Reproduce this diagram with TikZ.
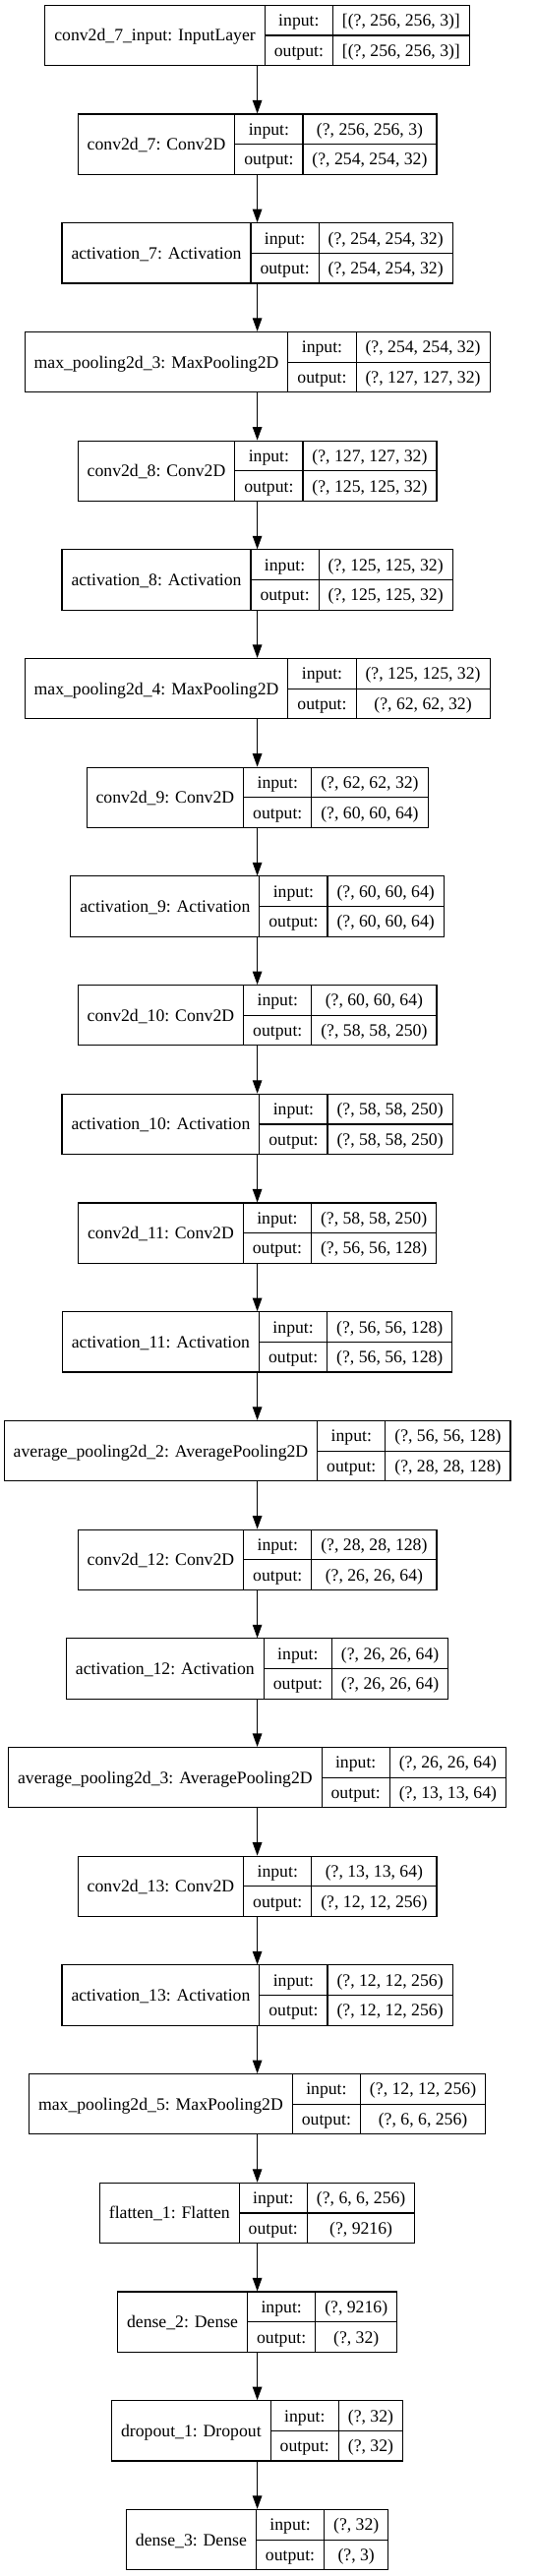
\documentclass[tikz,border=0pt]{standalone}
\usepackage{fontspec}
\setmainfont{Liberation Serif}
\usepackage{tikz}
\usetikzlibrary{arrows.meta}

\newdimen\namewd
\newdimen\labwd
\newdimen\valwd
\newdimen\tmpwd
\newcommand{\lfont}{\fontsize{17.7}{21}\selectfont}
\newcommand{\cellpad}{9.5}
\newcommand{\boxht}{61.3}
\newcommand{\midx}{261.6}
% width of a cell text, measured outside the picture's null font
\newcommand{\cellwd}[2]{\settowidth{#1}{\pgfinterruptpicture\lfont #2\endpgfinterruptpicture}}

% one layer record: #1 node name, #2 row index, #3 layer, #4 input shape, #5 output shape
\newcommand{\layer}[5]{%
  \cellwd{\namewd}{#3}%
  \cellwd{\labwd}{output:}%
  \cellwd{\valwd}{#4}%
  \cellwd{\tmpwd}{#5}%
  \ifdim\tmpwd>\valwd \valwd=\tmpwd\fi
  \pgfmathsetmacro{\lyT}{5.3+110.7*#2}%
  \pgfmathsetmacro{\lyWa}{\the\namewd+2*\cellpad}%
  \pgfmathsetmacro{\lyWb}{\the\labwd+2*\cellpad}%
  \pgfmathsetmacro{\lyWc}{\the\valwd+2*\cellpad}%
  \pgfmathsetmacro{\lyW}{\lyWa+\lyWb+\lyWc}%
  \pgfmathsetmacro{\lyL}{\midx-\lyW/2}%
  \pgfmathsetmacro{\lyA}{\lyL+\lyWa}%
  \pgfmathsetmacro{\lyB}{\lyA+\lyWb}%
  \pgfmathsetmacro{\lyR}{\lyB+\lyWc}%
  \pgfmathsetmacro{\lyM}{\lyT+\boxht/2}%
  \pgfmathsetmacro{\lyD}{\lyT+\boxht}%
  \node[layerbox, minimum width=\lyW pt] (#1) at (\midx,\lyM) {};
  \draw[cellrule] (\lyA,\lyT) -- (\lyA,\lyD) (\lyB,\lyT) -- (\lyB,\lyD) (\lyA,\lyM) -- (\lyR,\lyM);
  \node[celltext] (#1-name) at ({(\lyL+\lyA)/2},\lyM+6) {#3};
  \node[celltext] (#1-inl) at ({(\lyA+\lyB)/2},\lyT+\boxht/4+6) {input:};
  \node[celltext] (#1-outl) at ({(\lyA+\lyB)/2},\lyT+3*\boxht/4+6) {output:};
  \node[celltext] (#1-in) at ({(\lyB+\lyR)/2},\lyT+\boxht/4+6) {#4};
  \node[celltext] (#1-out) at ({(\lyB+\lyR)/2},\lyT+3*\boxht/4+6) {#5};
}

\begin{document}
\begin{tikzpicture}[
  x=1pt, y=-1pt,
  layerbox/.style={draw, line width=1.1pt, inner sep=0pt, minimum height=\boxht pt},
  cellrule/.style={line width=1.1pt},
  celltext/.style={font=\lfont, inner sep=0pt, anchor=base},
  arr/.style={-{Triangle[length=13.5pt, width=9.5pt]}, line width=1.1pt}
]
  \path[use as bounding box, fill=white] (0,0) rectangle (545,2619);

  % Input
  \layer{inlayer}{0}{conv2d\_7\_input: InputLayer}{[(?, 256, 256, 3)]}{[(?, 256, 256, 3)]}

  % First conv block
  \layer{conv7}{1}{conv2d\_7: Conv2D}{(?, 256, 256, 3)}{(?, 254, 254, 32)}
  \layer{act7}{2}{activation\_7: Activation}{(?, 254, 254, 32)}{(?, 254, 254, 32)}
  \layer{maxpool3}{3}{max\_pooling2d\_3: MaxPooling2D}{(?, 254, 254, 32)}{(?, 127, 127, 32)}

  % Second conv block
  \layer{conv8}{4}{conv2d\_8: Conv2D}{(?, 127, 127, 32)}{(?, 125, 125, 32)}
  \layer{act8}{5}{activation\_8: Activation}{(?, 125, 125, 32)}{(?, 125, 125, 32)}
  \layer{maxpool4}{6}{max\_pooling2d\_4: MaxPooling2D}{(?, 125, 125, 32)}{(?, 62, 62, 32)}

  % Third conv block
  \layer{conv9}{7}{conv2d\_9: Conv2D}{(?, 62, 62, 32)}{(?, 60, 60, 64)}
  \layer{act9}{8}{activation\_9: Activation}{(?, 60, 60, 64)}{(?, 60, 60, 64)}
  \layer{conv10}{9}{conv2d\_10: Conv2D}{(?, 60, 60, 64)}{(?, 58, 58, 250)}
  \layer{act10}{10}{activation\_10: Activation}{(?, 58, 58, 250)}{(?, 58, 58, 250)}
  \layer{conv11}{11}{conv2d\_11: Conv2D}{(?, 58, 58, 250)}{(?, 56, 56, 128)}
  \layer{act11}{12}{activation\_11: Activation}{(?, 56, 56, 128)}{(?, 56, 56, 128)}
  \layer{avgpool2}{13}{average\_pooling2d\_2: AveragePooling2D}{(?, 56, 56, 128)}{(?, 28, 28, 128)}

  % Fourth conv block
  \layer{conv12}{14}{conv2d\_12: Conv2D}{(?, 28, 28, 128)}{(?, 26, 26, 64)}
  \layer{act12}{15}{activation\_12: Activation}{(?, 26, 26, 64)}{(?, 26, 26, 64)}
  \layer{avgpool3}{16}{average\_pooling2d\_3: AveragePooling2D}{(?, 26, 26, 64)}{(?, 13, 13, 64)}

  % Fifth conv block
  \layer{conv13}{17}{conv2d\_13: Conv2D}{(?, 13, 13, 64)}{(?, 12, 12, 256)}
  \layer{act13}{18}{activation\_13: Activation}{(?, 12, 12, 256)}{(?, 12, 12, 256)}
  \layer{maxpool5}{19}{max\_pooling2d\_5: MaxPooling2D}{(?, 12, 12, 256)}{(?, 6, 6, 256)}

  % Classifier head
  \layer{flat1}{20}{flatten\_1: Flatten}{(?, 6, 6, 256)}{(?, 9216)}
  \layer{dense2}{21}{dense\_2: Dense}{(?, 9216)}{(?, 32)}
  \layer{drop1}{22}{dropout\_1: Dropout}{(?, 32)}{(?, 32)}
  \layer{dense3}{23}{dense\_3: Dense}{(?, 32)}{(?, 3)}

  % Arrows
  \draw[arr] (inlayer) -- (conv7);
  \draw[arr] (conv7) -- (act7);
  \draw[arr] (act7) -- (maxpool3);
  \draw[arr] (maxpool3) -- (conv8);
  \draw[arr] (conv8) -- (act8);
  \draw[arr] (act8) -- (maxpool4);
  \draw[arr] (maxpool4) -- (conv9);
  \draw[arr] (conv9) -- (act9);
  \draw[arr] (act9) -- (conv10);
  \draw[arr] (conv10) -- (act10);
  \draw[arr] (act10) -- (conv11);
  \draw[arr] (conv11) -- (act11);
  \draw[arr] (act11) -- (avgpool2);
  \draw[arr] (avgpool2) -- (conv12);
  \draw[arr] (conv12) -- (act12);
  \draw[arr] (act12) -- (avgpool3);
  \draw[arr] (avgpool3) -- (conv13);
  \draw[arr] (conv13) -- (act13);
  \draw[arr] (act13) -- (maxpool5);
  \draw[arr] (maxpool5) -- (flat1);
  \draw[arr] (flat1) -- (dense2);
  \draw[arr] (dense2) -- (drop1);
  \draw[arr] (drop1) -- (dense3);
\end{tikzpicture}
\end{document}
